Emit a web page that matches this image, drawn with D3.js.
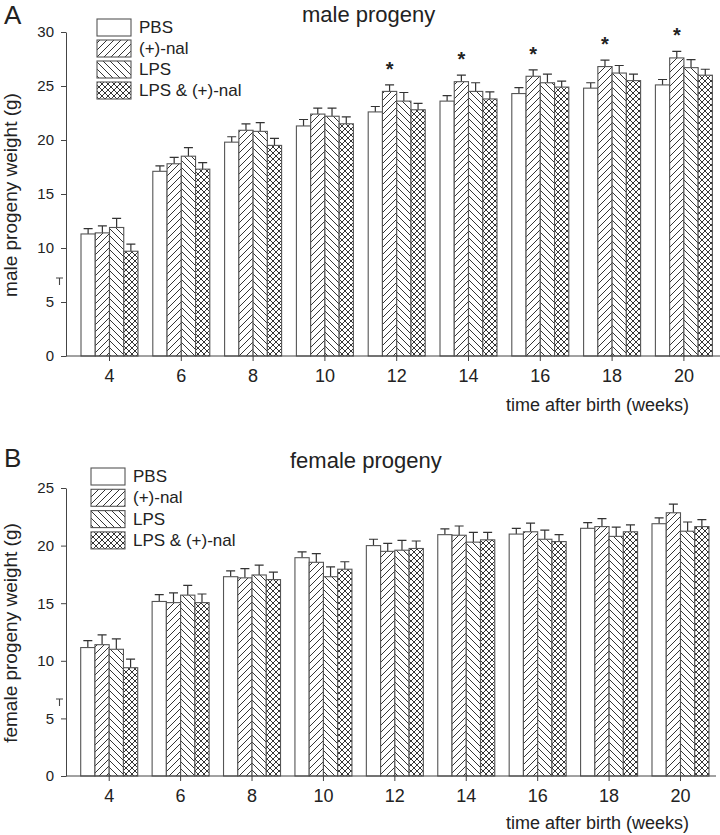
<!DOCTYPE html>
<html>
<head>
<meta charset="utf-8">
<script src="https://cdn.jsdelivr.net/npm/d3@7"></script>
<style>
  html, body { margin: 0; padding: 0; background: #fff; }
  svg { display: block; font-family: "Liberation Sans", Arial, Helvetica, sans-serif; }
</style>
</head>
<body>
<svg id="chart" width="720" height="835"></svg>
<script>
// ---------- data ----------
const weeks = ["4", "6", "8", "10", "12", "14", "16", "18", "20"];
const seriesNames = ["PBS", "(+)-nal", "LPS", "LPS & (+)-nal"];

// male progeny weight (g), mean and SEM (upper bar)
const malePBS      = [11.3, 17.1, 19.8, 21.3, 22.6, 23.6, 24.3, 24.8, 25.1];
const maleNal      = [11.4, 17.8, 20.9, 22.4, 24.5, 25.4, 25.9, 26.8, 27.6];
const maleLPS      = [11.9, 18.5, 20.8, 22.2, 23.6, 24.5, 25.3, 26.2, 26.7];
const maleLPSNal   = [ 9.7, 17.3, 19.5, 21.5, 22.8, 23.8, 24.9, 25.5, 26.0];
const malePBSErr   = [0.5, 0.5, 0.5, 0.6, 0.5, 0.5, 0.55, 0.5, 0.5];
const maleNalErr   = [0.65, 0.6, 0.6, 0.55, 0.6, 0.6, 0.6, 0.6, 0.6];
const maleLPSErr   = [0.85, 0.8, 0.8, 0.75, 0.8, 0.8, 0.8, 0.7, 0.75];
const maleLPSNalErr= [0.65, 0.6, 0.65, 0.65, 0.6, 0.65, 0.55, 0.6, 0.55];
const maleSignificant = [false, false, false, false, true, true, true, true, true]; // (+)-nal vs PBS

// female progeny weight (g)
const femalePBS      = [11.15, 15.15, 17.3, 18.95, 20.0, 20.95, 21.0, 21.5, 21.9];
const femaleNal      = [11.4, 15.05, 17.2, 18.55, 19.5, 20.9, 21.2, 21.65, 22.85];
const femaleLPS      = [11.0, 15.7, 17.45, 17.3, 19.6, 20.3, 20.55, 20.8, 21.25];
const femaleLPSNal   = [ 9.4, 15.05, 17.05, 17.95, 19.75, 20.5, 20.35, 21.2, 21.65];
const femalePBSErr   = [0.6, 0.6, 0.5, 0.5, 0.55, 0.5, 0.5, 0.5, 0.5];
const femaleNalErr   = [0.85, 0.85, 0.8, 0.75, 0.7, 0.8, 0.75, 0.7, 0.75];
const femaleLPSErr   = [0.9, 0.85, 0.85, 0.85, 0.85, 0.85, 0.8, 0.8, 0.8];
const femaleLPSNalErr= [0.75, 0.75, 0.65, 0.65, 0.65, 0.65, 0.6, 0.6, 0.6];
const femaleSignificant = [false, false, false, false, false, false, false, false, false];

const maleTicks = [0, 5, 10, 15, 20, 25, 30];
const femaleTicks = [0, 5, 10, 15, 20, 25];

// ---------- drawing ----------
const svg = d3.select("#chart");
const FONT = '"Liberation Sans", Arial, Helvetica, sans-serif';
const ink = "#222";
const barStroke = "#555";

// patterns
const defs = svg.append("defs");
function hatchPattern(id, kind) {
  const size = kind === "cross" ? 6 : 7;
  const p = defs.append("pattern").attr("id", id)
    .attr("patternUnits", "userSpaceOnUse")
    .attr("width", size).attr("height", size);
  p.append("rect").attr("width", size).attr("height", size).attr("fill", "#fff");
  const st = {stroke: "#111", "stroke-width": 0.85, fill: "none"};
  function ln(d) { const l = p.append("path").attr("d", d); Object.entries(st).forEach(([k, v]) => l.attr(k, v)); }
  if (kind === "fwd" || kind === "cross") {
    ln(`M${-1},${1} L${1},${-1} M0,${size} L${size},0 M${size - 1},${size + 1} L${size + 1},${size - 1}`);
  }
  if (kind === "back" || kind === "cross") {
    ln(`M${-1},${size - 1} L${1},${size + 1} M0,0 L${size},${size} M${size - 1},${-1} L${size + 1},${1}`);
  }
}
hatchPattern("pat-fwd", "fwd");
hatchPattern("pat-back", "back");
hatchPattern("pat-cross", "cross");
const fills = ["#fff", "url(#pat-fwd)", "url(#pat-back)", "url(#pat-cross)"];

function drawPanel(cfg) {
  const g = svg.append("g");
  const x = d3.scaleBand().domain(weeks).range(cfg.xRange).padding(0);
  const inner = d3.scaleBand().domain(seriesNames)
    .range([(x.step() - cfg.groupWidth) / 2, (x.step() + cfg.groupWidth) / 2]).padding(0);
  const y = d3.scaleLinear().domain([0, cfg.yMax]).range(cfg.yRange);

  // y axis
  const yAxis = d3.axisLeft(y).tickValues(cfg.ticks).tickSize(5).tickSizeOuter(0).tickPadding(7);
  const ya = g.append("g").attr("transform", `translate(${cfg.axisX},0)`).call(yAxis);
  ya.select(".domain").attr("stroke", "#444");
  ya.selectAll(".tick line").attr("stroke", "#444");
  ya.selectAll(".tick text").attr("font-size", 15).attr("font-family", FONT).attr("fill", ink);

  // bars
  const seriesMeans = cfg.means;
  const seriesErrs = cfg.errs;
  seriesNames.forEach((s, si) => {
    const rows = weeks.map((w, i) => ({w, v: seriesMeans[si][i], e: seriesErrs[si][i]}));
    const bx = d => x(d.w) + inner(s);
    const bw = inner.bandwidth();
    // error bars (upper only)
    g.selectAll(null).data(rows).enter().append("path")
      .attr("d", d => {
        const cx = bx(d) + bw / 2, top = y(d.v + d.e);
        return `M${cx},${y(d.v)} V${top} M${cx - 4.5},${top} H${cx + 4.5}`;
      })
      .attr("stroke", "#333").attr("stroke-width", 1.2).attr("fill", "none");
    g.selectAll(null).data(rows).enter().append("rect")
      .attr("x", bx).attr("width", bw)
      .attr("y", d => y(d.v)).attr("height", d => y(0) - y(d.v))
      .attr("fill", fills[si]).attr("stroke", barStroke).attr("stroke-width", 1.1);
  });

  // significance stars above (+)-nal bars
  const starRows = weeks.map((w, i) => ({w, v: seriesMeans[1][i], e: seriesErrs[1][i], sig: cfg.sig[i]})).filter(d => d.sig);
  g.selectAll(null).data(starRows).enter().append("text")
    .attr("x", d => x(d.w) + inner(seriesNames[1]) + inner.bandwidth() / 2)
    .attr("y", d => y(d.v + d.e) - 9)
    .attr("text-anchor", "middle").attr("font-size", 20).attr("font-weight", "bold")
    .attr("font-family", FONT).attr("fill", ink).text("*");

  // x axis
  g.append("line").attr("x1", cfg.axisX).attr("x2", cfg.xAxisEnd)
    .attr("y1", y(0)).attr("y2", y(0)).attr("stroke", "#444").attr("stroke-width", 1);
  const xAxis = d3.axisBottom(x).tickSize(5).tickSizeOuter(0).tickPadding(8);
  const xa = g.append("g").attr("transform", `translate(0,${y(0)})`).call(xAxis);
  xa.select(".domain").remove();
  xa.selectAll(".tick line").attr("stroke", "#444");
  xa.selectAll(".tick text").attr("font-size", 18).attr("font-family", FONT).attr("fill", ink);

  // stray small T mark left of the axis
  g.append("path").attr("d", `M${cfg.axisX - 10},${cfg.tY} H${cfg.axisX - 3} M${cfg.axisX - 6.5},${cfg.tY} V${cfg.tY + 7}`)
    .attr("stroke", "#444").attr("stroke-width", 1.1).attr("fill", "none");

  // axis titles
  g.append("text").attr("transform", `translate(${cfg.yLabelX},${cfg.yLabelY}) rotate(-90)`)
    .attr("text-anchor", "middle").attr("font-size", 19).attr("font-family", FONT).attr("fill", ink)
    .text(cfg.yLabel);
  g.append("text").attr("x", cfg.xTitleEnd).attr("y", cfg.xTitleY)
    .attr("text-anchor", "end").attr("font-size", 18).attr("font-family", FONT).attr("fill", ink)
    .text("time after birth (weeks)");

  // panel title and letter
  g.append("text").attr("x", cfg.titleX).attr("y", cfg.titleY)
    .attr("font-size", 22).attr("font-family", FONT).attr("fill", ink).text(cfg.title);
  g.append("text").attr("x", 4).attr("y", cfg.letterY)
    .attr("font-size", 26).attr("font-family", FONT).attr("fill", ink).text(cfg.letter);

  // legend
  const lg = g.append("g");
  seriesNames.forEach((s, si) => {
    const yy = cfg.legendY + si * cfg.legendStep;
    lg.append("rect").attr("x", cfg.legendX).attr("y", yy).attr("width", 34).attr("height", 17)
      .attr("fill", fills[si]).attr("stroke", barStroke).attr("stroke-width", 1.1);
    lg.append("text").attr("x", cfg.legendX + 42).attr("y", yy + 14)
      .attr("font-size", 17).attr("font-family", FONT).attr("fill", ink).text(s);
  });
}

drawPanel({
  means: [malePBS, maleNal, maleLPS, maleLPSNal],
  errs: [malePBSErr, maleNalErr, maleLPSErr, maleLPSNalErr],
  sig: maleSignificant,
  ticks: maleTicks, yMax: 30, yRange: [356, 32],
  xRange: [73.6, 719.8], groupWidth: 57, axisX: 66, xAxisEnd: 720,
  yLabel: "male progeny weight (g)", yLabelX: 17, yLabelY: 195,
  xTitleEnd: 689, xTitleY: 411,
  title: "male progeny", titleX: 302, titleY: 22,
  letter: "A", letterY: 24,
  legendX: 97, legendY: 19, legendStep: 21,
  tY: 278
});

drawPanel({
  means: [femalePBS, femaleNal, femaleLPS, femaleLPSNal],
  errs: [femalePBSErr, femaleNalErr, femaleLPSErr, femaleLPSNalErr],
  sig: femaleSignificant,
  ticks: femaleTicks, yMax: 25, yRange: [776, 488],
  xRange: [73.5, 716.2], groupWidth: 57, axisX: 66, xAxisEnd: 716,
  yLabel: "female progeny weight (g)", yLabelX: 17, yLabelY: 633,
  xTitleEnd: 689, xTitleY: 829,
  title: "female progeny", titleX: 290, titleY: 468,
  letter: "B", letterY: 467,
  legendX: 91, legendY: 468, legendStep: 21.3,
  tY: 699
});
</script>
</body>
</html>
